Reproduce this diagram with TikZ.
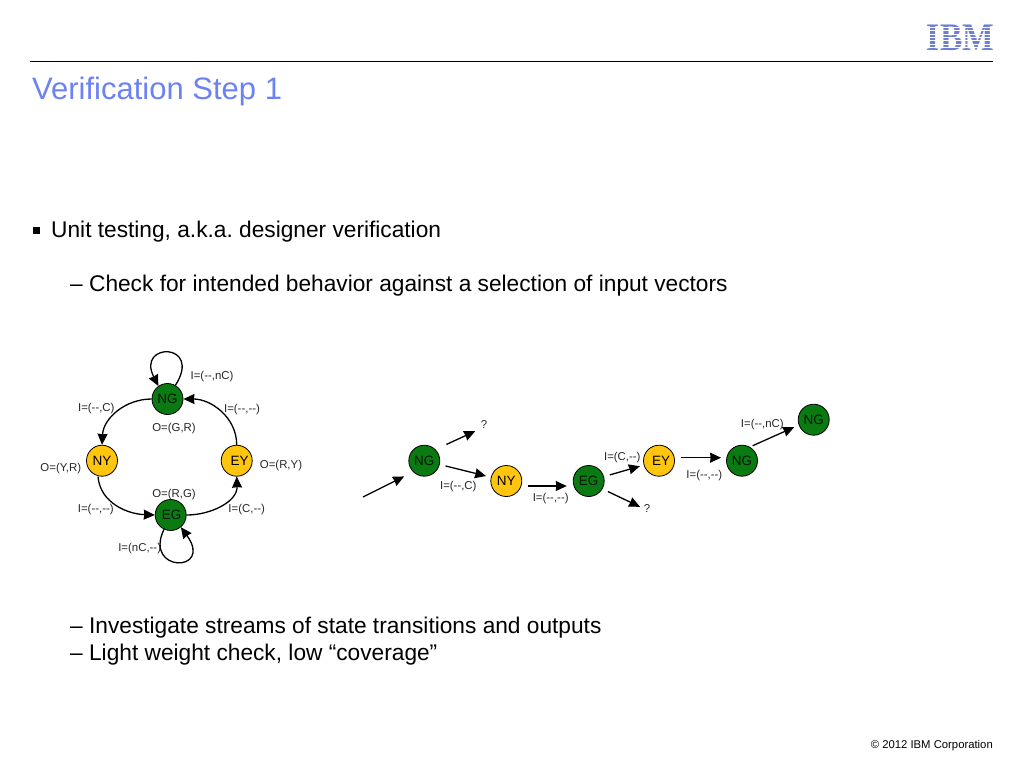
\documentclass[tikz,border=0pt]{standalone}
\usepackage{fontspec}
\setmainfont{Liberation Sans}
\newfontfamily\logofont{Liberation Serif}
\usepackage{xcolor}
\usetikzlibrary{arrows.meta, positioning}
\definecolor{titleblue}{HTML}{6C82F2}
\definecolor{ibmblue}{HTML}{6F7FD0}
\definecolor{stategreen}{HTML}{0B7A12}
\definecolor{stateyellow}{HTML}{FFC50F}
\tikzset{
    state/.style={circle, draw=black, line width=0.8pt, minimum size=31pt, inner sep=0pt, font=\fontsize{13.5}{13}\selectfont},
    greenstate/.style={state, fill=stategreen, text=black!80!stategreen},
    yellowstate/.style={state, fill=stateyellow},
    flow/.style={-{Stealth[length=11pt,width=10pt,inset=0.5pt]}, line width=1.3pt},
    edgelabel/.style={font=\fontsize{11.4}{12}\selectfont, text=black!85, inner sep=0pt, yshift=-1pt},
    bodytext/.style={anchor=base west, inner sep=0pt, font=\fontsize{22.7}{23}\selectfont\frenchspacing, text=black}
}
\begin{document}
\begin{tikzpicture}[x=1pt,y=-1pt]
    \useasboundingbox (0,0) rectangle (1024,768);
    % Header
    \draw[line width=0.9pt] (30,61) -- (993,61); % rule under the logo
    \node[anchor=base west, inner sep=0pt, text=titleblue, font=\fontsize{31}{31}\selectfont] (title) at (32,99.2) {Verification Step 1};
    \node[inner sep=0pt, text=ibmblue, font=\fontsize{39}{39}\logofont\bfseries, xscale=0.86] (logo) at (960.5,38) {IBM};
    \foreach \y in {27.6,30.9,34.2,37.5,40.8,44.1,47.4}
        \draw[white, line width=1pt] (924,\y) -- (997,\y); % stripes of the logo
    \node[anchor=base east, inner sep=0pt, font=\fontsize{11.3}{12}\selectfont] (footer) at (993,748) {© 2012 IBM Corporation};

    % Body text
    \node[rectangle, fill=black, minimum size=7pt, inner sep=0pt] (bullet) at (36,230) {};
    \node[bodytext] (line1) at (51,237.5) {Unit testing, a.k.a. designer verification};
    \node[bodytext] (line2) at (70,291.5) {– Check for intended behavior against a selection of input vectors};
    \node[bodytext] (line3) at (70,633) {– Investigate streams of state transitions and outputs};
    \node[bodytext] (line4) at (70,660) {– Light weight check, low “coverage”};

    % State machine
    \node[greenstate] (ng) at (167.5,399) {NG};
    \node[yellowstate] (ny) at (102,460.7) {NY};
    \node[yellowstate] (ey) at (236.7,460.7) {\hspace*{6pt}EY};
    \node[greenstate] (eg) at (170.7,515) {\hspace*{2pt}EG};

    \draw[flow] (ng.west) to[out=180,in=87] (ny.north); % NG to NY
    \draw[flow] (ny.south) ++(-4,0) coordinate (nyout) (nyout) to[out=-85,in=178] (eg.west); % NY to EG
    \draw[flow] (eg.east) to[out=0,in=-88] (ey.south); % EG to EY
    \draw[flow] (ey.north) to[out=90,in=0] (ng.east); % EY to NG
    \draw[flow] (ng.60) .. controls (203,342) and (136,342) .. (ng.125); % NG loop
    \draw[flow] (eg.-115) .. controls (143,573) and (214,573) .. (eg.-50); % EG loop

    \node[edgelabel] (lnc) at (212,375.7) {I=(-{}-,nC)};
    \node[edgelabel] (lc) at (96.3,408) {I=(-{}-,C)};
    \node[edgelabel] (ldd) at (242,409) {I=(-{}-,-{}-)};
    \node[edgelabel] (ogr) at (174,428) {O=(G,R)};
    \node[edgelabel] (oyr) at (60.8,467.7) {O=(Y,R)};
    \node[edgelabel] (ory) at (281,465) {O=(R,Y)};
    \node[edgelabel] (org) at (174,494) {O=(R,G)};
    \node[edgelabel] (ldb) at (95.8,509) {I=(-{}-,-{}-)};
    \node[edgelabel] (lcd) at (246.7,509) {I=(C,-{}-)};
    \node[edgelabel] (lncd) at (139.7,547.7) {I=(nC,-{}-)};

    % Trace of the run
    \coordinate (start) at (363,497);
    \node[greenstate] (nga) at (424.3,460.7) {NG};
    \node[yellowstate] (nya) at (506.3,481) {NY};
    \node[greenstate] (ega) at (588.7,481) {EG};
    \node[yellowstate] (eya) at (659,460.7) {\hspace*{4pt}EY};
    \node[greenstate] (ngb) at (742,460.7) {NG};
    \node[greenstate] (ngc) at (813.7,419.7) {NG};
    \node[edgelabel] (qa) at (484,423.5) {?};
    \node[edgelabel] (qb) at (647,507.5) {?};

    \draw[flow, shorten >=10pt] (start) -- (nga.south west);
    \draw[flow, shorten <=12pt, shorten >=6pt] (nga.north east) -- (qa.south west);
    \draw[flow, shorten <=6pt, shorten >=5pt] (nga) -- (nya);
    \draw[flow, shorten <=6pt, shorten >=6pt] ([yshift=-5pt]nya.east) -- ([yshift=-5pt]ega.west);
    \draw[flow, shorten <=6pt, shorten >=4pt] (ega) -- (eya);
    \draw[flow, shorten <=6pt, shorten >=4pt] (ega.-30) -- (qb.west);
    \draw[flow, shorten <=6pt, shorten >=5pt] ([yshift=3pt]eya.east) -- ([yshift=3pt]ngb.west);
    \draw[flow, shorten <=3pt, shorten >=5pt] (ngb.60) -- (ngc.200);

    \node[edgelabel] (tc) at (458.3,485.7) {I=(-{}-,C)};
    \node[edgelabel] (tdd) at (550.7,497.7) {I=(-{}-,-{}-)};
    \node[edgelabel] (tcd) at (622.3,456.7) {I=(C,-{}-)};
    \node[edgelabel] (tde) at (704.3,475) {I=(-{}-,-{}-)};
    \node[edgelabel] (tnc) at (762.3,423.3) {I=(-{}-,nC)};
\end{tikzpicture}
\end{document}
